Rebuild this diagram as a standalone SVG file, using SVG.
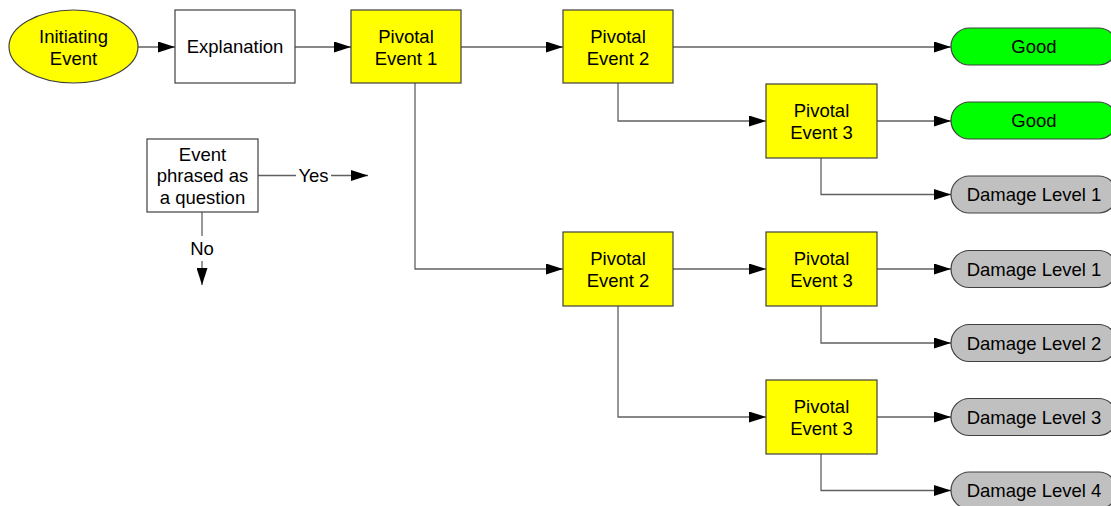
<svg xmlns="http://www.w3.org/2000/svg" width="1111" height="506" viewBox="0 0 1111 506">
<defs>
<marker id="arr" markerUnits="userSpaceOnUse" markerWidth="17" markerHeight="11" refX="17" refY="5.5" orient="auto">
<path d="M0,0 L17,5.5 L0,11 z" fill="#000"/>
</marker>
<style>
.c{fill:none;stroke:#606060;stroke-width:1.3;marker-end:url(#arr)}
.l{fill:none;stroke:#606060;stroke-width:1.3}
.box{stroke:#404040;stroke-width:1.2}
.y{fill:#ffff00}
.w{fill:#ffffff}
.g{fill:#00ff00}
.d{fill:#c0c0c0}
text{font-family:"Liberation Sans",Arial,sans-serif;font-size:18.5px;fill:#000;text-anchor:middle}
</style>
</defs>
<rect width="1111" height="506" fill="#fff"/>
<g id="connectors">
<line class="c" x1="138" y1="47" x2="175" y2="47"/>
<line class="c" x1="295" y1="47" x2="351" y2="47"/>
<line class="c" x1="461" y1="47" x2="563" y2="47"/>
<line class="c" x1="673" y1="47" x2="951" y2="47"/>
<polyline class="c" points="618,83 618,121 766,121"/>
<line class="c" x1="877" y1="121" x2="951" y2="121"/>
<polyline class="c" points="821,158 821,194.5 951,194.5"/>
<polyline class="c" points="415,83 415,269 563,269"/>
<line class="c" x1="673" y1="269" x2="766" y2="269"/>
<line class="c" x1="877" y1="269" x2="951" y2="269"/>
<polyline class="c" points="821,306 821,343 951,343"/>
<polyline class="c" points="618,306 618,417 766,417"/>
<line class="c" x1="877" y1="417" x2="951" y2="417"/>
<polyline class="c" points="821,454 821,490.5 951,490.5"/>
<line class="l" x1="258" y1="175.5" x2="296" y2="175.5"/>
<line class="c" x1="331" y1="175.5" x2="368" y2="175.5"/>
<line class="l" x1="202" y1="212" x2="202" y2="236"/>
<line class="c" x1="202" y1="261" x2="202" y2="285"/>
</g>
<g id="initiating">
<ellipse class="box y" cx="73.5" cy="46.5" rx="64.5" ry="36.5"/>
<text x="73.5" y="43">Initiating</text>
<text x="73.5" y="64.5">Event</text>
</g>
<g id="explanation">
<rect class="box w" x="175" y="10" width="120" height="73"/>
<text x="235" y="53">Explanation</text>
</g>
<g id="pe1">
<rect class="box y" x="351" y="10" width="110" height="73"/>
<text x="406" y="42.5">Pivotal</text>
<text x="406" y="64.5">Event 1</text>
</g>
<g id="pe2a">
<rect class="box y" x="563" y="10" width="110" height="73"/>
<text x="618" y="42.5">Pivotal</text>
<text x="618" y="64.5">Event 2</text>
</g>
<g id="pe3a">
<rect class="box y" x="766" y="84" width="111" height="74"/>
<text x="821.5" y="117">Pivotal</text>
<text x="821.5" y="139">Event 3</text>
</g>
<g id="pe2b">
<rect class="box y" x="563" y="232" width="110" height="74"/>
<text x="618" y="265">Pivotal</text>
<text x="618" y="287">Event 2</text>
</g>
<g id="pe3b">
<rect class="box y" x="766" y="232" width="111" height="74"/>
<text x="821.5" y="265">Pivotal</text>
<text x="821.5" y="287">Event 3</text>
</g>
<g id="pe3c">
<rect class="box y" x="766" y="380" width="111" height="74"/>
<text x="821.5" y="413">Pivotal</text>
<text x="821.5" y="435">Event 3</text>
</g>
<g id="good1">
<rect class="box g" x="951" y="28" width="166" height="37" rx="18.5"/>
<text x="1034" y="53">Good</text>
</g>
<g id="good2">
<rect class="box g" x="951" y="102" width="166" height="37" rx="18.5"/>
<text x="1034" y="127">Good</text>
</g>
<g id="dl1a">
<rect class="box d" x="951" y="176" width="166" height="37" rx="18.5"/>
<text x="1034" y="201">Damage Level 1</text>
</g>
<g id="dl1b">
<rect class="box d" x="951" y="250.5" width="166" height="37" rx="18.5"/>
<text x="1034" y="275.5">Damage Level 1</text>
</g>
<g id="dl2">
<rect class="box d" x="951" y="324.5" width="166" height="37" rx="18.5"/>
<text x="1034" y="349.5">Damage Level 2</text>
</g>
<g id="dl3">
<rect class="box d" x="951" y="398.5" width="166" height="37" rx="18.5"/>
<text x="1034" y="423.5">Damage Level 3</text>
</g>
<g id="dl4">
<rect class="box d" x="951" y="472" width="166" height="37" rx="18.5"/>
<text x="1034" y="497">Damage Level 4</text>
</g>
<g id="legend">
<rect class="box w" x="147" y="139" width="111" height="73"/>
<text x="202.5" y="160.5">Event</text>
<text x="202.5" y="182.3">phrased as</text>
<text x="202.5" y="204">a question</text>
<text x="313.5" y="181.8">Yes</text>
<text x="202" y="254.5">No</text>
</g>
</svg>
